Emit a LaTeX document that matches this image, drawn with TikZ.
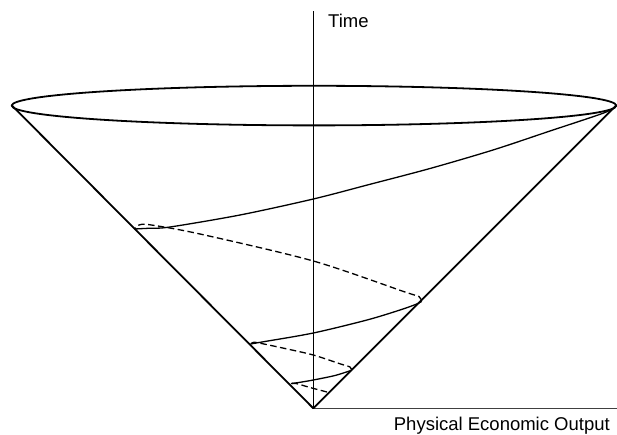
\documentclass[tikz,border=0pt]{standalone}
\usepackage{fontspec}
\setmainfont{Liberation Sans}
\begin{document}
\begin{tikzpicture}[x=1pt,y=-1pt,
  conestyle/.style={line width=1.8pt,line cap=round,line join=round},
  axisstyle/.style={line width=0.9pt},
  spiralsolid/.style={line width=1.3pt},
  spiraldash/.style={line width=1.3pt,dash pattern=on 6.5pt off 3.5pt},
  lbl/.style={font=\fontsize{18.5}{21}\selectfont,inner sep=0pt}]
\useasboundingbox (0,0) rectangle (617,435);
\coordinate (apex) at (313.3,408.3);
\coordinate (ltip) at (11.7,105.3);
\coordinate (rtip) at (616.3,105.3);
\coordinate (ctr) at (314,105.6);
\coordinate (ytop) at (313.3,11);
\coordinate (xend) at (617,408.3);
% axes
\draw[axisstyle] (apex) -- (ytop);
\draw[axisstyle,black!75] (apex) -- (xend);
% cone
\draw[conestyle] (ctr) ellipse [x radius=302.3, y radius=19.8];
\draw[conestyle] (ltip) -- (apex) -- (rtip);
% spiral: front (solid) and back (dashed)
\draw[spiraldash] plot[smooth,tension=0.5] coordinates {(327,392) (310,387.5) (296,383.5) (291,383.6)};
\draw[spiralsolid] plot[smooth,tension=0.5] coordinates {(291,383.6) (300,382.3) (313.3,380) (335,375.5) (351.5,370.3)};
\draw[spiraldash] plot[smooth,tension=0.5] coordinates {(351.5,370.3) (350,367) (340,363.8) (313.3,355) (285,348.5) (262,343.6) (254,342.2) (250.5,344)};
\draw[spiralsolid] plot[smooth,tension=0.5] coordinates {(250.5,344) (262,342) (313.3,333) (367,320) (400,310) (416,304.3) (421.5,301.5)};
\draw[spiraldash] plot[smooth,tension=0.5] coordinates {(421.5,301.5) (419,296.5) (405,292) (313.3,261) (200,234) (150,224.8) (139,225) (134.5,229)};
\draw[spiralsolid] plot[smooth,tension=0.5] coordinates {(134.5,229) (150,228.2) (170,227) (240,215) (313.3,199) (370,184.3) (430,168.5) (493,150) (550,131) (605,112.5) (616.3,105.3)};
% labels
\node[lbl,anchor=base west] (tlabel) at (328,28) {Time};
\node[lbl,anchor=base east] (xlabel) at (610,430.5) {Physical Economic Output};
\end{tikzpicture}
\end{document}
